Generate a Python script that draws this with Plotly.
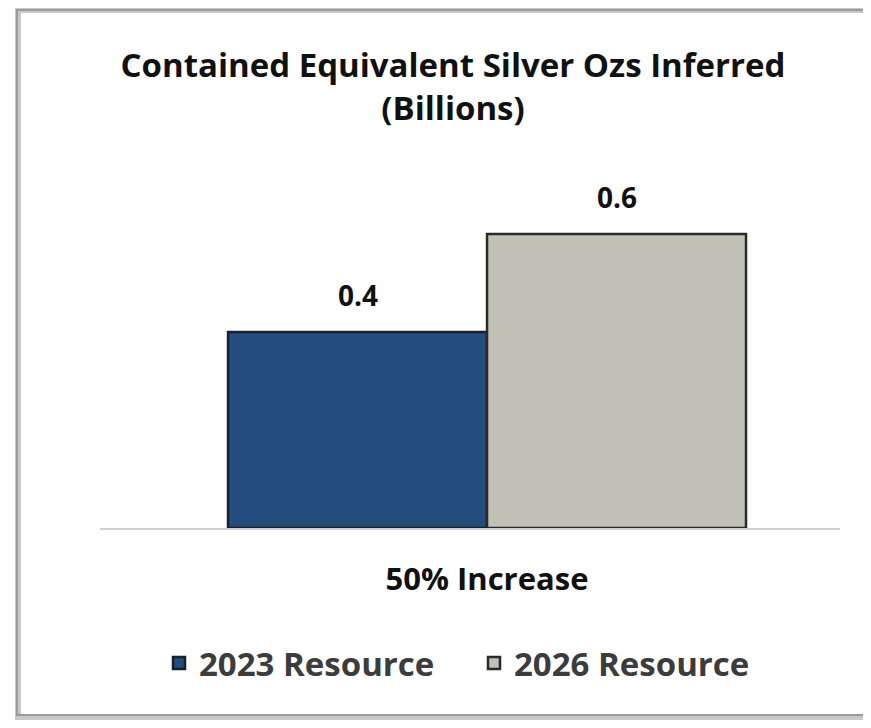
import plotly.graph_objects as go

categories = ["50% Increase"]
series_names = ["2023 Resource", "2026 Resource"]
values_2023 = [0.4]
values_2026 = [0.6]
labels_2023 = ["0.4"]
labels_2026 = ["0.6"]

# figure sits at (8,8) in the page (body margin)
W, H = 863, 720
L, R, T, B = 92, 31, 150, 200
pw, ph = W - L - R, H - T - B
OFF = 8

def px(x_page):
    return (x_page - OFF - L) / pw

def py(y_page):
    return (H - B - (y_page - OFF)) / ph

FONT = "Open Sans"
BAR_OFFSET = 0.175  # half of one bar's width in category units (bargap 0.3, 2 bars)
SHIFT = 0.023       # bars sit slightly right of the axis-line centre

fig = go.Figure()
fig.add_trace(go.Bar(
    name="<b>" + series_names[0] + "</b>", x=categories, y=values_2023,
    marker=dict(color="#234D7C", line=dict(color="#1a1f2a", width=2.5)),
))
fig.add_trace(go.Bar(
    name="<b>" + series_names[1] + "</b>", x=categories, y=values_2026,
    marker=dict(color="#C2C1B6", line=dict(color="#2a2a2a", width=2.5)),
))

annotations = []
for vals, labs, sgn in ((values_2023, labels_2023, -1), (values_2026, labels_2026, 1)):
    for i, (v, t) in enumerate(zip(vals, labs)):
        annotations.append(dict(
            x=i + sgn * BAR_OFFSET, y=v, xref="x", yref="y",
            text="<b>" + t + "</b>", showarrow=False,
            yanchor="bottom", yshift=16,
            font=dict(family=FONT, size=28, color="#111111"),
        ))

shapes = [
    dict(type="rect", xref="paper", yref="paper",
         x0=px(18), x1=px(867), y0=py(717), y1=py(10),
         line=dict(color="#c8c8c8", width=6), layer="below"),
    dict(type="rect", xref="paper", yref="paper",
         x0=px(17), x1=px(865), y0=py(715), y1=py(10),
         line=dict(color="#9a9a9a", width=2), layer="below"),
]

fig.update_layout(
    width=W, height=H,
    margin=dict(l=L, r=R, t=T, b=B),
    paper_bgcolor="white", plot_bgcolor="white",
    barmode="group", bargap=0.3, bargroupgap=0,
    title=dict(
        text="<b>Contained Equivalent Silver Ozs Inferred<br>(Billions)</b>",
        x=(453 - OFF) / W, xanchor="center", y=1 - (77 - OFF) / H, yanchor="middle",
        font=dict(family=FONT, size=33, color="#111111"),
    ),
    xaxis=dict(
        range=[-0.5 - SHIFT, 0.5 - SHIFT],
        showline=True, linecolor="#d0d0d0", linewidth=1.5,
        tickfont=dict(family=FONT, size=31, color="#111111"),
        ticklabelstandoff=23, showgrid=False,
        tickprefix="<b>", ticksuffix="</b>",
    ),
    yaxis=dict(range=[0, ph / 490], visible=False, showgrid=False),
    showlegend=True,
    legend=dict(
        orientation="h", x=px(159), xanchor="left", y=py(663), yanchor="middle",
        font=dict(family=FONT, size=33, color="#3c3c3c"),
        entrywidth=270, traceorder="normal",
    ),
    annotations=annotations,
    shapes=shapes,
)

fig.write_html("out.html")
